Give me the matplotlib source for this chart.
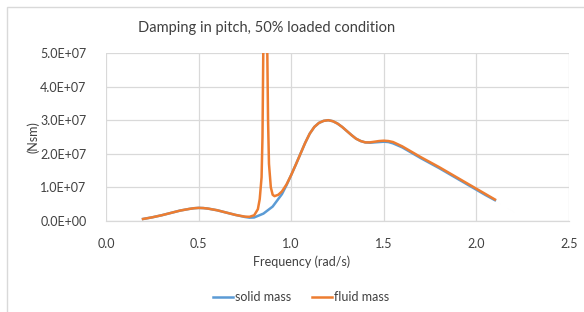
import matplotlib
matplotlib.use("Agg")
from matplotlib import pyplot as plt
from matplotlib.patches import Rectangle

plt.rcParams['font.family'] = ['Lato', 'DejaVu Sans']

# solid mass curve
solid_freq = [0.20, 0.25, 0.30, 0.35, 0.40, 0.45, 0.475, 0.50, 0.525, 0.55,
              0.60, 0.65, 0.70, 0.75, 0.775, 0.80, 0.85, 0.90, 0.95, 0.975,
              1.00, 1.025, 1.05, 1.075, 1.10, 1.125, 1.15, 1.175, 1.20, 1.225,
              1.25, 1.275, 1.30, 1.325, 1.35, 1.375, 1.40, 1.425, 1.45, 1.475,
              1.50, 1.525, 1.55, 1.60, 1.65, 1.70, 1.75, 1.80, 1.85, 1.90,
              1.95, 2.00, 2.05, 2.10]
solid_val = [0.6e6, 1.1e6, 1.7e6, 2.4e6, 3.1e6, 3.6e6, 3.8e6, 3.9e6, 3.85e6, 3.7e6,
             3.2e6, 2.5e6, 1.8e6, 1.2e6, 1.0e6, 1.05e6, 2.2e6, 4.3e6, 8.0e6, 1.07e7,
             1.37e7, 1.68e7, 2.0e7, 2.32e7, 2.6e7, 2.8e7, 2.92e7, 2.98e7, 3.0e7, 2.97e7,
             2.9e7, 2.8e7, 2.68e7, 2.56e7, 2.45e7, 2.38e7, 2.34e7, 2.33e7, 2.34e7, 2.35e7,
             2.36e7, 2.35e7, 2.31e7, 2.19e7, 2.03e7, 1.87e7, 1.72e7, 1.57e7, 1.41e7, 1.25e7,
             1.09e7, 0.93e7, 0.77e7, 0.62e7]

# fluid mass curve
fluid_freq = [0.20, 0.25, 0.30, 0.35, 0.40, 0.45, 0.475, 0.50, 0.525, 0.55,
              0.60, 0.65, 0.70, 0.75, 0.775, 0.80, 0.82, 0.83, 0.84, 0.845,
              0.85, 0.86, 0.87, 0.875, 0.88, 0.89, 0.90, 0.91, 0.93, 0.95,
              0.975, 1.00, 1.025, 1.05, 1.075, 1.10, 1.125, 1.15, 1.175, 1.20,
              1.225, 1.25, 1.275, 1.30, 1.325, 1.35, 1.375, 1.40, 1.425, 1.45,
              1.475, 1.50, 1.525, 1.55, 1.60, 1.65, 1.70, 1.75, 1.80, 1.85,
              1.90, 1.95, 2.00, 2.05, 2.10]
fluid_val = [0.6e6, 1.1e6, 1.7e6, 2.4e6, 3.1e6, 3.6e6, 3.8e6, 3.9e6, 3.85e6, 3.7e6,
             3.2e6, 2.5e6, 1.8e6, 1.3e6, 1.25e6, 1.7e6, 3.5e6, 6.5e6, 1.3e7, 2.5e7,
             5.5e7, 1.5e8, 5.5e7, 3.0e7, 1.7e7, 1.0e7, 7.8e6, 7.4e6, 7.8e6, 8.8e6,
             1.09e7, 1.37e7, 1.68e7, 2.0e7, 2.32e7, 2.6e7, 2.8e7, 2.92e7, 2.98e7, 3.0e7,
             2.97e7, 2.9e7, 2.8e7, 2.68e7, 2.56e7, 2.45e7, 2.38e7, 2.34e7, 2.34e7, 2.36e7,
             2.38e7, 2.39e7, 2.38e7, 2.35e7, 2.22e7, 2.06e7, 1.9e7, 1.75e7, 1.6e7, 1.44e7,
             1.28e7, 1.12e7, 0.96e7, 0.8e7, 0.64e7]

x_ticks = [0.0, 0.5, 1.0, 1.5, 2.0, 2.5]
y_ticks = [0, 1e7, 2e7, 3e7, 4e7, 5e7]
y_tick_labels = ["0.0E+00", "1.0E+07", "2.0E+07", "3.0E+07", "4.0E+07", "5.0E+07"]

W, H = 584, 312
fig = plt.figure(figsize=(W / 100, H / 100), dpi=100)
ax = fig.add_axes([106 / W, 1 - 221 / H, (569 - 106) / W, (221 - 53) / H])

grid_col = "#d9d9d9"
text_col = "#404040"

ax.plot(solid_freq, solid_val, color="#5b9bd5", lw=1.8, label="solid mass",
        solid_joinstyle="round")
ax.plot(fluid_freq, fluid_val, color="#ed7d31", lw=1.8, label="fluid mass",
        solid_joinstyle="round")

ax.set_xlim(0, 2.5)
ax.set_ylim(0, 5e7)
ax.set_xticks(x_ticks)
ax.set_xticklabels([f"{v:.1f}" for v in x_ticks])
ax.set_yticks(y_ticks)
ax.set_yticklabels(y_tick_labels)
ax.tick_params(length=0, labelsize=9, colors=text_col)
ax.tick_params(axis="x", pad=12)
ax.tick_params(axis="y", pad=14)
ax.grid(True, color=grid_col, lw=0.9)
ax.set_axisbelow(True)
for s in ["top", "right", "left"]:
    ax.spines[s].set_visible(False)
ax.spines["bottom"].set_color(grid_col)
ax.spines["bottom"].set_linewidth(0.9)

fig.text(267 / W, 1 - 28 / H, "Damping in pitch, 50% loaded condition",
         ha="center", va="center", fontsize=10.5, color=text_col)
fig.text(302 / W, 1 - 262 / H, "Frequency (rad/s)", ha="center", va="center",
         fontsize=9, color=text_col)
fig.text(33 / W, 1 - 137 / H, "(Nsm)", ha="center", va="center", rotation=90,
         fontsize=9, color=text_col)

fig.legend(loc="center", bbox_to_anchor=(301 / W, 1 - 297 / H), ncol=2,
           frameon=False, fontsize=9, handlelength=1.6, handletextpad=0.2,
           columnspacing=1.6, labelcolor=text_col)

# outer chart border, cut off at right and bottom like the reference
fig.add_artist(Rectangle((7 / W, -0.1), 1.2, 1 - 7 / H + 0.1,
                         transform=fig.transFigure, fill=False,
                         edgecolor=grid_col, lw=1.0))

fig.savefig("out.png", dpi=100)
